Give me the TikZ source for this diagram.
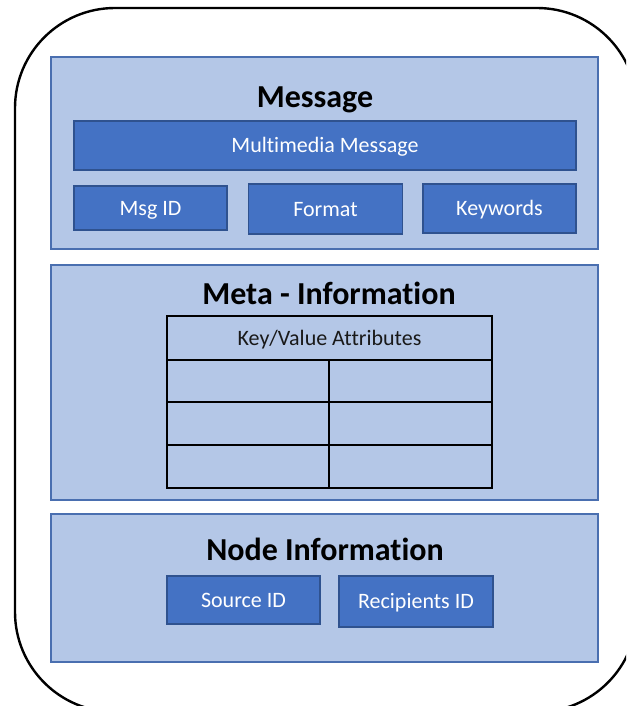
\documentclass[tikz,border=0pt]{standalone}
\usepackage{fontspec}
\setmainfont{Carlito}[Ligatures=NoCommon]
\definecolor{panelfill}{HTML}{B4C7E7}
\definecolor{paneldraw}{HTML}{4A6FB0}
\definecolor{boxfill}{HTML}{4472C4}
\definecolor{boxdraw}{HTML}{2F528F}
\tikzset{
  panel/.style={draw=paneldraw, fill=panelfill, line width=1.6pt, inner sep=0pt, outer sep=0pt},
  bluebox/.style={draw=boxdraw, fill=boxfill, line width=1.6pt, text=white, inner sep=0pt, outer sep=0pt, font=\fontsize{22}{26}\selectfont, text height=17pt, text depth=3pt},
  cell/.style={draw=black, line width=1.6pt, inner sep=0pt, outer sep=0pt, font=\fontsize{22}{26}\selectfont, text=black!90, text height=17pt, text depth=3pt},
  title/.style={anchor=base, font=\fontsize{32}{36}\selectfont\bfseries, text=black},
}
\begin{document}
\begin{tikzpicture}[x=1pt,y=-1pt]
\useasboundingbox (0,0) rectangle (626,706);
\begin{scope}
\clip (0,0) rectangle (626,706);
\draw[line width=2.4pt, rounded corners=100pt] (15,8) rectangle (637,712);
\end{scope}
% panels
\node[panel, minimum width=547pt, minimum height=192pt] (pmsg) at (324.5,153) {};
\node[panel, minimum width=547pt, minimum height=235pt] (pmeta) at (324.5,382.5) {};
\node[panel, minimum width=547pt, minimum height=148pt] (pnode) at (324.5,588) {};
% titles
\node[title] (tmsg) at (315,107) {Message};
\node[title] (tmeta) at (329,304) {Meta - Information};
\node[title] (tnode) at (325,560) {Node Information};
% message boxes
\node[bluebox, minimum width=502pt, minimum height=49pt] (mm) at (325,145.5) {Multimedia Message};
\node[bluebox, minimum width=153pt, minimum height=44pt] (msgid) at (150.5,208) {Msg ID};
\node[bluebox, minimum width=154pt, minimum height=50pt] (fmt) at (325.5,209) {Format};
\node[bluebox, minimum width=153pt, minimum height=49pt] (kw) at (499.5,208.5) {Keywords};
% table
\node[cell, minimum width=325pt, minimum height=44pt] (hdr) at (329.5,338) {Key/Value Attributes};
\node[cell, minimum width=162pt, minimum height=42pt] (r1a) at (248,381) {};
\node[cell, minimum width=163pt, minimum height=42pt] (r1b) at (410.5,381) {};
\node[cell, minimum width=162pt, minimum height=43pt] (r2a) at (248,423.5) {};
\node[cell, minimum width=163pt, minimum height=43pt] (r2b) at (410.5,423.5) {};
\node[cell, minimum width=162pt, minimum height=43pt] (r3a) at (248,466.5) {};
\node[cell, minimum width=163pt, minimum height=43pt] (r3b) at (410.5,466.5) {};
% node information boxes
\node[bluebox, minimum width=153pt, minimum height=48pt] (src) at (243.5,600) {Source ID};
\node[bluebox, minimum width=154pt, minimum height=51pt] (rcp) at (416,601.5) {Recipients ID};
\end{tikzpicture}
\end{document}
